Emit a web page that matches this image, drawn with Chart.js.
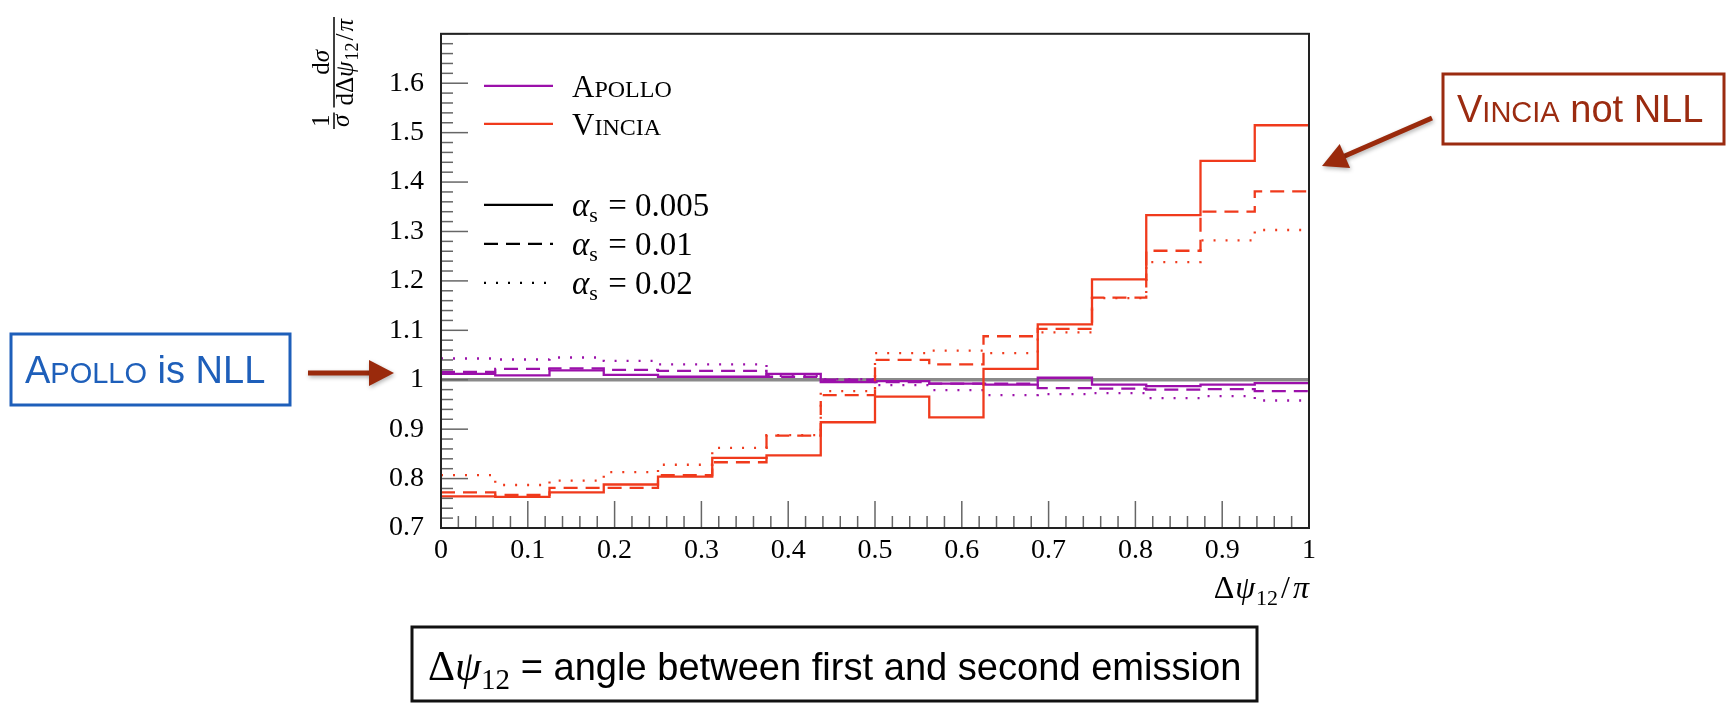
<!DOCTYPE html>
<html>
<head>
<meta charset="utf-8">
<script src="https://cdn.jsdelivr.net/npm/chart.js@4.4.1/dist/chart.umd.min.js"></script>
<style>
  html, body { margin: 0; padding: 0; background: #fff; }
</style>
</head>
<body>
<canvas id="c" width="1729" height="707"></canvas>
<script>
// bin edges of the 16-bin histogram in Δψ12/π
const binEdges = [0, 0.0625, 0.125, 0.1875, 0.25, 0.3125, 0.375, 0.4375, 0.5,
  0.5625, 0.625, 0.6875, 0.75, 0.8125, 0.875, 0.9375, 1];

// Apollo, one value per bin
const apollo005 = [1.012, 1.009, 1.019, 1.010, 1.006, 1.006, 1.012, 0.995, 0.997, 0.992, 0.990, 1.004, 0.990, 0.987, 0.990, 0.993];
const apollo001 = [1.016, 1.022, 1.023, 1.020, 1.018, 1.018, 1.006, 1.000, 0.995, 0.992, 0.992, 0.983, 0.982, 0.980, 0.981, 0.977];
const apollo002 = [1.043, 1.041, 1.045, 1.038, 1.031, 1.031, 1.008, 1.001, 0.989, 0.979, 0.969, 0.971, 0.973, 0.963, 0.967, 0.958];

// Vincia, one value per bin
const vincia005 = [0.764, 0.763, 0.772, 0.788, 0.804, 0.842, 0.847, 0.914, 0.966, 0.924, 1.022, 1.112, 1.203, 1.333, 1.443, 1.515];
const vincia001 = [0.772, 0.767, 0.781, 0.781, 0.807, 0.833, 0.887, 0.969, 1.040, 1.031, 1.088, 1.103, 1.166, 1.261, 1.340, 1.381];
const vincia002 = [0.807, 0.787, 0.796, 0.813, 0.828, 0.862, 0.888, 0.977, 1.054, 1.059, 1.054, 1.096, 1.165, 1.238, 1.282, 1.303];

const refLevel = 1;
const yTickLabels = ['0.7', '0.8', '0.9', '1', '1.1', '1.2', '1.3', '1.4', '1.5', '1.6'];
const xTickLabels = ['0', '0.1', '0.2', '0.3', '0.4', '0.5', '0.6', '0.7', '0.8', '0.9', '1'];

const APOLLO = '#9b10aa';
const VINCIA = '#f03a1c';
const DASHED = [14, 8];
const DOTTED = [2, 10];
const SERIF = 'Liberation Serif';
const SANS = 'Liberation Sans';

function histPoints(vals) {
  const pts = vals.map((v, i) => ({ x: binEdges[i], y: v }));
  pts.push({ x: binEdges[binEdges.length - 1], y: vals[vals.length - 1] });
  return pts;
}

function series(vals, color, dash) {
  return {
    data: histPoints(vals),
    borderColor: color,
    borderWidth: 2.3,
    borderDash: dash,
    borderCapStyle: 'butt',
    stepped: 'before',
    pointRadius: 0,
    fill: false
  };
}

const datasets = [
  series(vincia005, VINCIA, []),
  series(vincia001, VINCIA, DASHED),
  series(vincia002, VINCIA, DOTTED),
  series(apollo005, APOLLO, []),
  series(apollo001, APOLLO, DASHED),
  series(apollo002, APOLLO, DOTTED),
  {
    data: [{ x: binEdges[0], y: refLevel }, { x: binEdges[binEdges.length - 1], y: refLevel }],
    borderColor: '#8a8a8a', borderWidth: 3.5, pointRadius: 0, fill: false
  }
];

// draw a row of text pieces left to right on one baseline
function drawRuns(ctx, x, y, runs, color) {
  let cx = x;
  for (const r of runs) {
    ctx.font = r.font;
    ctx.fillStyle = r.color || color;
    ctx.fillText(r.t, cx, y + (r.dy || 0));
    cx += ctx.measureText(r.t).width + (r.gap || 0);
  }
  return cx - x;
}
function runsWidth(ctx, runs) {
  let w = 0;
  for (const r of runs) { ctx.font = r.font; w += ctx.measureText(r.t).width + (r.gap || 0); }
  return w;
}

function fmtLabel(list, lo) {
  return (v) => {
    const i = Math.round((v - lo) * 10);
    return list[i] === undefined ? null : list[i];
  };
}

// frame and inward ticks
const frameTicks = {
  id: 'frameTicks',
  afterDatasetsDraw(chart) {
    const { ctx, chartArea: a, scales: { x, y } } = chart;
    ctx.save();
    ctx.strokeStyle = '#666';
    ctx.lineWidth = 1.5;
    for (let k = 0; k <= 50; k++) {
      const py = y.getPixelForValue(0.7 + k * 0.02);
      const len = k % 5 === 0 ? 27 : 12;
      ctx.beginPath(); ctx.moveTo(a.left, py); ctx.lineTo(a.left + len, py); ctx.stroke();
      const px = x.getPixelForValue(k * 0.02);
      ctx.beginPath(); ctx.moveTo(px, a.bottom); ctx.lineTo(px, a.bottom - len); ctx.stroke();
    }
    ctx.strokeStyle = '#222';
    ctx.lineWidth = 2;
    ctx.strokeRect(a.left, a.top, a.right - a.left, a.bottom - a.top);
    ctx.restore();
  }
};

// legend drawn inside the plot
const legendRows = [
  { color: APOLLO, dash: [], dy: 52, runs: [{ t: 'A', font: `31px ${SERIF}` }, { t: 'POLLO', font: `24px ${SERIF}` }] },
  { color: VINCIA, dash: [], dy: 90, runs: [{ t: 'V', font: `31px ${SERIF}` }, { t: 'INCIA', font: `24px ${SERIF}` }] },
  { color: '#000', dash: [], dy: 171, runs: [{ t: 'α', font: `italic 33px ${SERIF}` }, { t: 's', font: `22px ${SERIF}`, dy: 6, gap: 2 }, { t: ' = 0.005', font: `33px ${SERIF}` }] },
  { color: '#000', dash: DASHED, dy: 210, runs: [{ t: 'α', font: `italic 33px ${SERIF}` }, { t: 's', font: `22px ${SERIF}`, dy: 6, gap: 2 }, { t: ' = 0.01', font: `33px ${SERIF}` }] },
  { color: '#000', dash: DOTTED, dy: 249, runs: [{ t: 'α', font: `italic 33px ${SERIF}` }, { t: 's', font: `22px ${SERIF}`, dy: 6, gap: 2 }, { t: ' = 0.02', font: `33px ${SERIF}` }] }
];
const legendPlugin = {
  id: 'inLegend',
  afterDraw(chart) {
    const { ctx, chartArea: a } = chart;
    ctx.save();
    for (const row of legendRows) {
      const yy = a.top + row.dy;
      ctx.strokeStyle = row.color;
      ctx.lineWidth = 2.3;
      ctx.setLineDash(row.dash);
      ctx.beginPath(); ctx.moveTo(a.left + 43, yy); ctx.lineTo(a.left + 112, yy); ctx.stroke();
      ctx.setLineDash([]);
      drawRuns(ctx, a.left + 131, yy + 11, row.runs, '#000');
    }
    ctx.restore();
  }
};

// axis titles
const titlesPlugin = {
  id: 'axisTitles',
  afterDraw(chart) {
    const { ctx, chartArea: a } = chart;
    ctx.save();
    ctx.fillStyle = '#000';
    // x title, right aligned under the axis
    const xr = [
      { t: 'Δ', font: `32px ${SERIF}`, gap: 1 },
      { t: 'ψ', font: `italic 32px ${SERIF}`, gap: 1 },
      { t: '12', font: `22px ${SERIF}`, dy: 7, gap: 3 },
      { t: '/', font: `32px ${SERIF}`, gap: 3 },
      { t: 'π', font: `italic 32px ${SERIF}` }
    ];
    drawRuns(ctx, a.right - runsWidth(ctx, xr), 598, xr, '#000');

    // y title, rotated fraction
    ctx.translate(334, 129);
    ctx.rotate(-Math.PI / 2);
    ctx.strokeStyle = '#000';
    ctx.lineWidth = 1.5;
    const one = [{ t: '1', font: `25px ${SERIF}` }];
    const sig = [{ t: 'σ', font: `italic 25px ${SERIF}` }];
    const w1 = Math.max(runsWidth(ctx, one), runsWidth(ctx, sig)) + 4;
    drawRuns(ctx, (w1 - runsWidth(ctx, one)) / 2, -5, one, '#000');
    drawRuns(ctx, (w1 - runsWidth(ctx, sig)) / 2, 15, sig, '#000');
    ctx.beginPath(); ctx.moveTo(0, 0); ctx.lineTo(w1, 0); ctx.stroke();
    const num = [{ t: 'd', font: `25px ${SERIF}` }, { t: 'σ', font: `italic 25px ${SERIF}` }];
    const den = [
      { t: 'dΔ', font: `25px ${SERIF}` },
      { t: 'ψ', font: `italic 25px ${SERIF}`, gap: 1 },
      { t: '12', font: `18px ${SERIF}`, dy: 5, gap: 2 },
      { t: '/', font: `25px ${SERIF}`, gap: 2 },
      { t: 'π', font: `italic 25px ${SERIF}` }
    ];
    const x0 = w1 + 5;
    const w2 = Math.max(runsWidth(ctx, num), runsWidth(ctx, den)) + 4;
    drawRuns(ctx, x0 + (w2 - runsWidth(ctx, num)) / 2, -5, num, '#000');
    drawRuns(ctx, x0 + (w2 - runsWidth(ctx, den)) / 2, 19, den, '#000');
    ctx.beginPath(); ctx.moveTo(x0, 0); ctx.lineTo(x0 + w2, 0); ctx.stroke();
    ctx.restore();
  }
};

function arrow(ctx, x1, y1, x2, y2, color) {
  const ang = Math.atan2(y2 - y1, x2 - x1);
  const hl = 25, hw = 13;
  const bx = x2 - hl * Math.cos(ang), by = y2 - hl * Math.sin(ang);
  ctx.save();
  ctx.shadowColor = 'rgba(0,0,0,0.3)';
  ctx.shadowBlur = 4;
  ctx.shadowOffsetX = 1;
  ctx.shadowOffsetY = 2;
  ctx.strokeStyle = color;
  ctx.fillStyle = color;
  ctx.lineWidth = 5;
  ctx.beginPath(); ctx.moveTo(x1, y1); ctx.lineTo(bx + 2 * Math.cos(ang), by + 2 * Math.sin(ang)); ctx.stroke();
  ctx.beginPath();
  ctx.moveTo(x2, y2);
  ctx.lineTo(bx + hw * Math.sin(ang), by - hw * Math.cos(ang));
  ctx.lineTo(bx - hw * Math.sin(ang), by + hw * Math.cos(ang));
  ctx.closePath();
  ctx.fill();
  ctx.restore();
}

// stamped boxes and arrows around the plot
const notesPlugin = {
  id: 'notes',
  afterDraw(chart) {
    const { ctx } = chart;
    ctx.save();
    // APOLLO is NLL
    ctx.strokeStyle = '#1e5fba';
    ctx.lineWidth = 3;
    ctx.strokeRect(11, 334, 279, 71);
    drawRuns(ctx, 25, 383, [
      { t: 'A', font: `38px ${SANS}` },
      { t: 'POLLO', font: `29px ${SANS}` },
      { t: ' is NLL', font: `38px ${SANS}` }
    ], '#1e5fba');
    arrow(ctx, 308, 373, 394, 373, '#9a2a0c');

    // VINCIA not NLL
    ctx.strokeStyle = '#9b2b10';
    ctx.lineWidth = 3;
    ctx.strokeRect(1443, 74, 281, 70);
    drawRuns(ctx, 1457, 122, [
      { t: 'V', font: `38px ${SANS}` },
      { t: 'INCIA', font: `29px ${SANS}` },
      { t: ' not NLL', font: `38px ${SANS}` }
    ], '#9b2b10');
    arrow(ctx, 1432, 118, 1322, 166, '#9a2a0c');

    // caption box
    ctx.strokeStyle = '#111';
    ctx.lineWidth = 3;
    ctx.strokeRect(412, 627, 845, 74);
    const head = [
      { t: 'Δ', font: `42px ${SERIF}` },
      { t: 'ψ', font: `italic 42px ${SERIF}` },
      { t: '12', font: `29px ${SERIF}`, dy: 9 }
    ];
    const hw = drawRuns(ctx, 428, 680, head, '#000');
    const txt = ' = angle between first and second emission';
    ctx.font = `36px ${SANS}`;
    const size = 36 * (1241 - 428 - hw) / ctx.measureText(txt).width;
    drawRuns(ctx, 428 + hw, 680, [{ t: txt, font: `${size.toFixed(1)}px ${SANS}` }], '#000');
    ctx.restore();
  }
};

new Chart(document.getElementById('c'), {
  type: 'line',
  data: { datasets },
  options: {
    responsive: false,
    animation: false,
    layout: { padding: { left: 0, right: 420, top: 7, bottom: 139 } },
    plugins: { legend: { display: false }, tooltip: { enabled: false } },
    scales: {
      x: {
        type: 'linear', min: 0, max: 1,
        grid: { display: false, drawTicks: false },
        border: { display: false },
        ticks: {
          stepSize: 0.1, padding: 6, color: '#000', autoSkip: false, maxRotation: 0,
          font: { family: SERIF, size: 28 },
          callback: fmtLabel(xTickLabels, 0)
        },
        afterFit(s) { s.height = 40; }
      },
      y: {
        type: 'linear', min: 0.7, max: 1.7,
        grid: { display: false, drawTicks: false },
        border: { display: false },
        ticks: {
          stepSize: 0.1, padding: 17, color: '#000', autoSkip: false,
          font: { family: SERIF, size: 28 },
          callback: fmtLabel(yTickLabels, 0.7)
        },
        afterFit(s) { s.width = 441; }
      }
    }
  },
  plugins: [frameTicks, legendPlugin, titlesPlugin, notesPlugin]
});
</script>
</body>
</html>
